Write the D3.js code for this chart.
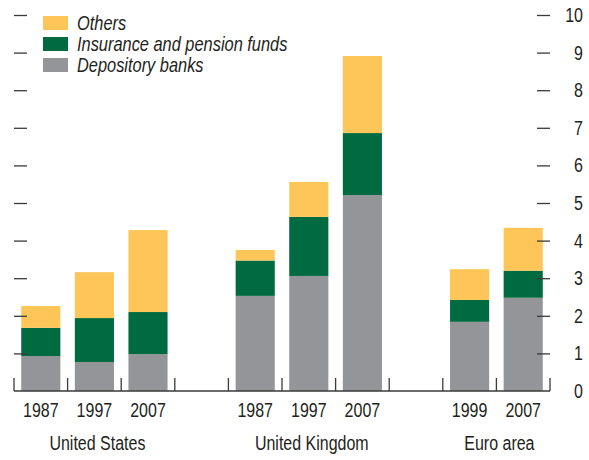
<!DOCTYPE html>
<html>
<head>
<meta charset="utf-8">
<script src="https://cdn.jsdelivr.net/npm/d3@7"></script>
<style>
  body { margin: 0; background: #fff; }
  text { font-family: "Liberation Sans Narrow", "Liberation Sans", Arial, sans-serif; fill: #231f20; }
</style>
</head>
<body>
<div id="chart"></div>
<script>
// slots along the axis; blank strings are spacer slots between groups
const slots = ["US 1987", "US 1997", "US 2007", "", "UK 1987", "UK 1997", "UK 2007", " ", "EA 1999", "EA 2007"];
const years = ["1987", "1997", "2007", "", "1987", "1997", "2007", "", "1999", "2007"];
const groups = ["United States", "United Kingdom", "Euro area"];
const groupSlots = [[0, 2], [4, 6], [8, 9]];

const depository = [0.93, 0.77, 0.98, null, 2.53, 3.06, 5.21, null, 1.84, 2.48];
const insurance  = [0.75, 1.17, 1.12, null, 0.94, 1.57, 1.65, null, 0.58, 0.72];
const others     = [0.58, 1.22, 2.18, null, 0.28, 0.93, 2.05, null, 0.82, 1.14];

const seriesNames = ["Depository banks", "Insurance and pension funds", "Others"];
const seriesColors = ["#939598", "#006a40", "#fec558"];
const yTicks = [0, 1, 2, 3, 4, 5, 6, 7, 8, 9, 10];

const width = 589, height = 460;
const plotLeft = 14, plotRight = 550, plotTop = 15, plotBottom = 391;
const narrow = 0.82; // condensed look: squeeze the regular face horizontally

const svg = d3.select("#chart").append("svg")
    .attr("width", width)
    .attr("height", height);

const x = d3.scaleBand()
    .domain(slots)
    .range([plotLeft, plotRight])
    .paddingInner(0.27)
    .paddingOuter(0.135);

const y = d3.scaleLinear()
    .domain([0, 10])
    .range([plotBottom, plotTop]);

const table = slots.map((s, i) => ({
    slot: s,
    "Depository banks": depository[i] || 0,
    "Insurance and pension funds": insurance[i] || 0,
    "Others": others[i] || 0
}));

const stacked = d3.stack().keys(seriesNames)(table);

svg.append("g")
    .selectAll("g")
    .data(stacked)
    .join("g")
    .attr("fill", (d, i) => seriesColors[i])
    .selectAll("rect")
    .data(d => d.filter(p => p[1] > p[0]))
    .join("rect")
    .attr("x", d => x(d.data.slot))
    .attr("width", x.bandwidth())
    .attr("y", d => y(d[1]))
    .attr("height", d => y(d[0]) - y(d[1]));

// left axis: ticks only
const leftAxis = d3.axisRight(y)
    .tickValues(yTicks.slice(1))
    .tickSize(13)
    .tickFormat("");
svg.append("g")
    .attr("transform", `translate(${plotLeft},0)`)
    .call(leftAxis)
    .call(g => g.select(".domain").remove())
    .call(g => g.selectAll("line").attr("stroke", "#3a3a3a").attr("stroke-width", 1.3));

// right axis: ticks, labels drawn separately (0 has a label but no tick)
const rightAxis = d3.axisLeft(y)
    .tickValues(yTicks.slice(1))
    .tickSize(13)
    .tickFormat("");
svg.append("g")
    .attr("transform", `translate(${plotRight},0)`)
    .call(rightAxis)
    .call(g => g.select(".domain").remove())
    .call(g => g.selectAll("line").attr("stroke", "#3a3a3a").attr("stroke-width", 1.3));

svg.append("g")
    .selectAll("text")
    .data(yTicks)
    .join("text")
    .attr("transform", d => `translate(583,${y(d)}) scale(${narrow},1)`)
    .attr("dy", "0.36em")
    .attr("text-anchor", "end")
    .attr("font-size", 19.5)
    .text(d => d);

// baseline with separator ticks
const step = x.step();
const gap = step * x.paddingInner() / 2;
const bounds = slots.map(s => x(s) - gap).concat([plotRight]);

svg.append("line")
    .attr("x1", plotLeft)
    .attr("x2", plotRight)
    .attr("y1", y(0))
    .attr("y2", y(0))
    .attr("stroke", "#3a3a3a")
    .attr("stroke-width", 1.6);

svg.append("g")
    .selectAll("line")
    .data(bounds)
    .join("line")
    .attr("x1", d => d)
    .attr("x2", d => d)
    .attr("y1", y(0))
    .attr("y2", y(0) - 13)
    .attr("stroke", "#3a3a3a")
    .attr("stroke-width", 1.3);

// year labels
svg.append("g")
    .selectAll("text")
    .data(slots.map((s, i) => ({ slot: s, year: years[i] })).filter(d => d.year))
    .join("text")
    .attr("transform", d => `translate(${x(d.slot) + x.bandwidth() / 2},416.5) scale(${narrow},1)`)
    .attr("text-anchor", "middle")
    .attr("font-size", 19.5)
    .text(d => d.year);

// group labels
svg.append("g")
    .selectAll("text")
    .data(groups)
    .join("text")
    .attr("transform", (d, i) => {
        const [a, b] = groupSlots[i];
        const cx = (x(slots[a]) + x(slots[b]) + x.bandwidth()) / 2 + 3;
        return `translate(${cx},450) scale(${narrow},1)`;
    })
    .attr("text-anchor", "middle")
    .attr("font-size", 19.5)
    .text(d => d);

// legend
const legendItems = ["Others", "Insurance and pension funds", "Depository banks"];
const legend = svg.append("g")
    .selectAll("g")
    .data(legendItems)
    .join("g")
    .attr("transform", (d, i) => `translate(43,${16 + i * 21})`);

legend.append("rect")
    .attr("width", 25)
    .attr("height", 14)
    .attr("fill", d => seriesColors[seriesNames.indexOf(d)]);

legend.append("text")
    .attr("transform", `translate(34,14) scale(${narrow},1)`)
    .attr("font-size", 20)
    .attr("font-style", "italic")
    .text(d => d);
</script>
</body>
</html>
